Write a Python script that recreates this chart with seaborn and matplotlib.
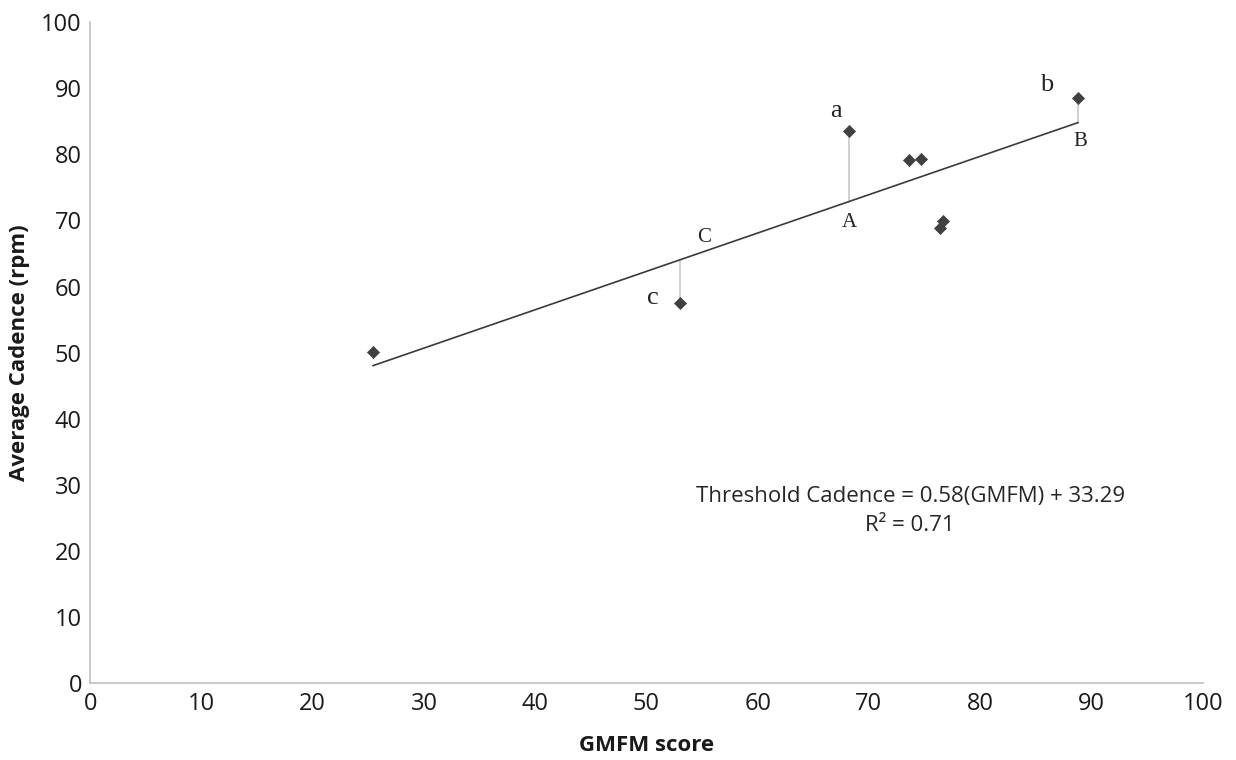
import matplotlib
matplotlib.use("Agg")
import matplotlib.pyplot as plt
import seaborn as sns
import pandas as pd
import numpy as np

# Data
gmfm = [25.4, 53.0, 68.2, 73.6, 74.7, 76.4, 76.7, 88.8]
cadence = [50.1, 57.5, 83.5, 79.1, 79.3, 68.8, 69.9, 88.5]
slope = 0.58
intercept = 33.29
r2 = 0.71
labelled_idx = {"a": 2, "b": 7, "c": 1}
x_ticks = list(range(0, 101, 10))
y_ticks = list(range(0, 101, 10))

df = pd.DataFrame({"GMFM": gmfm, "Cadence": cadence})

sns.set_theme(style="white")
plt.rcParams['font.family'] = ['Open Sans', 'DejaVu Sans']

fig = plt.figure(figsize=(12.36, 7.6), dpi=100)
ax = fig.add_axes([0.073, 0.101, 0.9, 0.87])

# trend line over data range
xl = np.array([min(gmfm), max(gmfm)])
ax.plot(xl, slope * xl + intercept, color="#3a3a3a", lw=1.2, zorder=2)

# residual lines
for lab, i in labelled_idx.items():
    xv, yv = gmfm[i], cadence[i]
    yfit = slope * xv + intercept
    ax.plot([xv, xv], [yv, yfit], color="#c8c8c8", lw=1.2, zorder=1)

sns.scatterplot(data=df, x="GMFM", y="Cadence", marker="D", s=38,
                color="#404040", edgecolor="#404040", ax=ax, zorder=3)

serif = ['Liberation Serif', 'DejaVu Serif']
# lower-case labels near points, upper-case near fit line
lab_off = {"a": (-1.2, 3.0), "b": (-2.8, 2.0), "c": (-2.4, 0.8)}
up_off = {"a": (0.0, -3.1), "b": (0.2, -2.8), "c": (2.2, 3.4)}
for lab, i in labelled_idx.items():
    xv, yv = gmfm[i], cadence[i]
    yfit = slope * xv + intercept
    dx, dy = lab_off[lab]
    ax.text(xv + dx, yv + dy, lab, family=serif, fontsize=19, ha="center",
            va="center", color="#222222")
    dx, dy = up_off[lab]
    ax.text(xv + dx, yfit + dy, lab.upper(), family=serif, fontsize=15,
            ha="center", va="center", color="#222222")

ax.text(73.7, 28.3, f"Threshold Cadence = {slope}(GMFM) + {intercept}",
        fontsize=16, ha="center", va="center", color="#262626")
ax.text(73.7, 23.8, f"R² = {r2}", fontsize=16, ha="center", va="center",
        color="#262626")

ax.set_xlim(0, 100)
ax.set_ylim(0, 100)
ax.set_xticks(x_ticks)
ax.set_yticks(y_ticks)
ax.tick_params(axis="both", length=0, labelsize=17, colors="#1a1a1a", pad=6)
ax.set_xlabel("GMFM score", fontsize=16, fontweight="bold", labelpad=14,
              color="#1a1a1a")
ax.set_ylabel("Average Cadence (rpm)", fontsize=16, fontweight="bold",
              labelpad=8, color="#1a1a1a")
for s in ["top", "right"]:
    ax.spines[s].set_visible(False)
for s in ["left", "bottom"]:
    ax.spines[s].set_color("#bfbfbf")
    ax.spines[s].set_linewidth(1.2)
ax.grid(False)

fig.savefig("out.png", dpi=100)
